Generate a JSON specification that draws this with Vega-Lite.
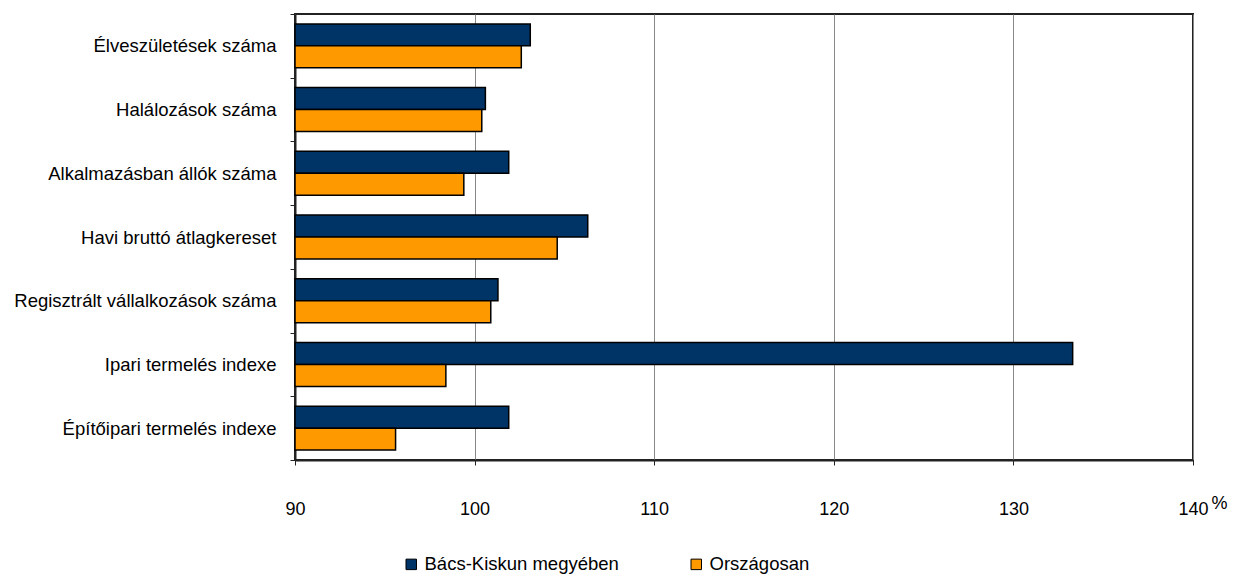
{
  "$schema": "https://vega.github.io/schema/vega-lite/v6.json",
  "width": 898,
  "height": 446,
  "autosize": {"type": "none"},
  "padding": {"left": 295, "top": 14, "right": 42, "bottom": 114},
  "background": "white",
  "config": {
    "font": "Liberation Sans, Arial, sans-serif",
    "view": {"stroke": "#222", "strokeWidth": 2}
  },
  "data": {
    "values": [
      {"mutato": "Élveszületések száma", "terulet": "Bács-Kiskun megyében", "ertek": 103.1},
      {"mutato": "Élveszületések száma", "terulet": "Országosan", "ertek": 102.6},
      {"mutato": "Halálozások száma", "terulet": "Bács-Kiskun megyében", "ertek": 100.6},
      {"mutato": "Halálozások száma", "terulet": "Országosan", "ertek": 100.4},
      {"mutato": "Alkalmazásban állók száma", "terulet": "Bács-Kiskun megyében", "ertek": 101.9},
      {"mutato": "Alkalmazásban állók száma", "terulet": "Országosan", "ertek": 99.4},
      {"mutato": "Havi bruttó átlagkereset", "terulet": "Bács-Kiskun megyében", "ertek": 106.3},
      {"mutato": "Havi bruttó átlagkereset", "terulet": "Országosan", "ertek": 104.6},
      {"mutato": "Regisztrált vállalkozások száma", "terulet": "Bács-Kiskun megyében", "ertek": 101.3},
      {"mutato": "Regisztrált vállalkozások száma", "terulet": "Országosan", "ertek": 100.9},
      {"mutato": "Ipari termelés indexe", "terulet": "Bács-Kiskun megyében", "ertek": 133.3},
      {"mutato": "Ipari termelés indexe", "terulet": "Országosan", "ertek": 98.4},
      {"mutato": "Építőipari termelés indexe", "terulet": "Bács-Kiskun megyében", "ertek": 101.9},
      {"mutato": "Építőipari termelés indexe", "terulet": "Országosan", "ertek": 95.6}
    ]
  },
  "mark": {"type": "bar", "stroke": "#000", "strokeWidth": 1.5},
  "encoding": {
    "y": {
      "field": "mutato", "type": "nominal", "sort": null,
      "scale": {"paddingInner": 0, "paddingOuter": 0},
      "axis": {
        "title": null, "tickBand": "extent", "tickSize": 5, "tickColor": "#222",
        "domainColor": "#222", "domainWidth": 2, "labelPadding": 14,
        "labelFontSize": 18.5, "labelColor": "#000", "labelLimit": 320, "grid": false
      }
    },
    "yOffset": {
      "field": "terulet", "type": "nominal",
      "sort": ["Bács-Kiskun megyében", "Országosan"],
      "scale": {"paddingInner": 0, "paddingOuter": 0.45}
    },
    "x": {
      "field": "ertek", "type": "quantitative",
      "scale": {"domain": [90, 140], "zero": false, "nice": false},
      "axis": {
        "values": [90, 100, 110, 120, 130, 140],
        "grid": true, "gridColor": "#888", "gridWidth": 1, "labelFlush": false,
        "tickSize": 5, "tickColor": "#222", "domainColor": "#222", "domainWidth": 2,
        "labelFontSize": 18, "labelColor": "#000", "labelPadding": 35,
        "title": "%", "titleFontSize": 18, "titleFontWeight": "normal", "titleColor": "#000",
        "titleAnchor": "end", "titleAngle": 0, "titleAlign": "center", "titleX": 924, "titleY": 34
      }
    },
    "x2": {"datum": 90},
    "color": {
      "field": "terulet", "type": "nominal",
      "scale": {"domain": ["Bács-Kiskun megyében", "Országosan"], "range": ["#003366", "#FF9900"]},
      "legend": {
        "title": null, "orient": "none", "direction": "horizontal",
        "legendX": 107, "legendY": 541,
        "symbolType": "square", "symbolSize": 110, "symbolStrokeColor": "#000", "symbolStrokeWidth": 1,
        "labelFontSize": 18.5, "labelColor": "#000", "columnPadding": 68, "labelOffset": 4, "labelLimit": 400
      }
    }
  }
}
